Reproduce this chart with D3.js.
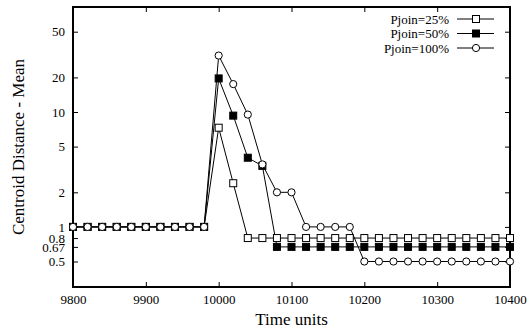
<!DOCTYPE html>
<html>
<head>
<meta charset="utf-8">
<script src="https://cdn.jsdelivr.net/npm/d3@7"></script>
<style>
  body { margin: 0; background: #fff; }
  svg { display: block; font-family: "Liberation Serif", "DejaVu Serif", serif; }
</style>
</head>
<body>
<div id="chart"></div>
<script>
// Time axis (every 20 units)
const times = d3.range(9800, 10401, 20);

// Series values
const p25 = [1, 1, 1, 1, 1, 1, 1, 1, 1, 1,
    7.3, 2.4, 0.8, 0.8, 0.8, 0.8, 0.8, 0.8, 0.8, 0.8,
    0.8, 0.8, 0.8, 0.8, 0.8, 0.8, 0.8, 0.8, 0.8, 0.8, 0.8];
const p50 = [1, 1, 1, 1, 1, 1, 1, 1, 1, 1,
    19.6, 9.3, 4.0, 3.4, 0.67, 0.67, 0.67, 0.67, 0.67, 0.67,
    0.67, 0.67, 0.67, 0.67, 0.67, 0.67, 0.67, 0.67, 0.67, 0.67, 0.67];
const p100 = [1, 1, 1, 1, 1, 1, 1, 1, 1, 1,
    31, 17.5, 9.5, 3.5, 2, 2, 1, 1, 1, 1,
    0.5, 0.5, 0.5, 0.5, 0.5, 0.5, 0.5, 0.5, 0.5, 0.5, 0.5];

const seriesNames = ["Pjoin=25%", "Pjoin=50%", "Pjoin=100%"];
const seriesMarkers = ["openSquare", "filledSquare", "openCircle"];

const xTicks = [9800, 9900, 10000, 10100, 10200, 10300, 10400];
const yTicks = [0.5, 0.67, 0.8, 1, 2, 5, 10, 20, 50];

const series = [p25, p50, p100].map((vals, i) => ({
    name: seriesNames[i],
    marker: seriesMarkers[i],
    points: vals.map((v, j) => ({ t: times[j], v: v }))
}));

const width = 527, height = 330;
const margin = { top: 7, right: 17, bottom: 43, left: 73 };

const svg = d3.select("#chart")
    .append("svg")
    .attr("width", width)
    .attr("height", height);

const x = d3.scaleLinear()
    .domain([9800, 10400])
    .range([margin.left, width - margin.right]);

const y = d3.scaleLog()
    .domain([0.3, 82])
    .range([height - margin.bottom, margin.top]);

const tickLen = 5;

// Axes (ticks point inward, mirrored on top/right)
svg.append("g")
    .attr("transform", `translate(0,${height - margin.bottom})`)
    .call(d3.axisBottom(x).tickValues(xTicks).tickSize(-tickLen).tickPadding(8).tickFormat(d3.format("d")))
    .call(g => g.select(".domain").remove())
    .call(g => g.selectAll("text").attr("font-size", 13).attr("font-family", "Liberation Serif"));

svg.append("g")
    .attr("transform", `translate(0,${margin.top})`)
    .call(d3.axisTop(x).tickValues(xTicks).tickSize(-tickLen).tickFormat(""))
    .call(g => g.select(".domain").remove());

svg.append("g")
    .attr("transform", `translate(${margin.left},0)`)
    .call(d3.axisLeft(y).tickValues(yTicks).tickSize(-tickLen).tickPadding(8).tickFormat(d => d))
    .call(g => g.select(".domain").remove())
    .call(g => g.selectAll("text").attr("font-size", 13).attr("font-family", "Liberation Serif"));

svg.append("g")
    .attr("transform", `translate(${width - margin.right},0)`)
    .call(d3.axisRight(y).tickValues(yTicks).tickSize(-tickLen).tickFormat(""))
    .call(g => g.select(".domain").remove());

// Plot border
svg.append("rect")
    .attr("x", margin.left)
    .attr("y", margin.top)
    .attr("width", width - margin.left - margin.right)
    .attr("height", height - margin.top - margin.bottom)
    .attr("fill", "none")
    .attr("stroke", "#000")
    .attr("stroke-width", 2);

// Axis titles
svg.append("text")
    .attr("x", (margin.left + width - margin.right) / 2)
    .attr("y", 325)
    .attr("text-anchor", "middle")
    .attr("font-size", 17)
    .text("Time units");

svg.append("text")
    .attr("transform", `translate(24,${(margin.top + height - margin.bottom) / 2}) rotate(-90)`)
    .attr("text-anchor", "middle")
    .attr("font-size", 17)
    .text("Centroid Distance - Mean");

// Markers
function drawMarker(g, type, cx, cy) {
    const s = 7;
    if (type === "openCircle") {
        g.append("circle").attr("cx", cx).attr("cy", cy).attr("r", 3.6)
            .attr("fill", "#fff").attr("stroke", "#000").attr("stroke-width", 1);
    } else {
        g.append("rect").attr("x", cx - s / 2).attr("y", cy - s / 2)
            .attr("width", s).attr("height", s)
            .attr("fill", type === "filledSquare" ? "#000" : "#fff")
            .attr("stroke", "#000").attr("stroke-width", 1);
    }
}

const line = d3.line()
    .x(d => x(d.t))
    .y(d => y(d.v));

series.forEach(s => {
    svg.append("path")
        .datum(s.points)
        .attr("fill", "none")
        .attr("stroke", "#000")
        .attr("stroke-width", 1)
        .attr("d", line);
});

series.forEach(s => {
    const g = svg.append("g");
    s.points.forEach(p => drawMarker(g, s.marker, x(p.t), y(p.v)));
});

// Legend
const legend = svg.append("g");
series.forEach((s, i) => {
    const ly = 19 + i * 14.5;
    legend.append("text")
        .attr("x", 449)
        .attr("y", ly)
        .attr("dy", "0.35em")
        .attr("text-anchor", "end")
        .attr("font-size", 13)
        .text(s.name);
    legend.append("line")
        .attr("x1", 457).attr("x2", 494)
        .attr("y1", ly).attr("y2", ly)
        .attr("stroke", "#000")
        .attr("stroke-width", 1);
    drawMarker(legend, s.marker, 476, ly);
});
</script>
</body>
</html>
